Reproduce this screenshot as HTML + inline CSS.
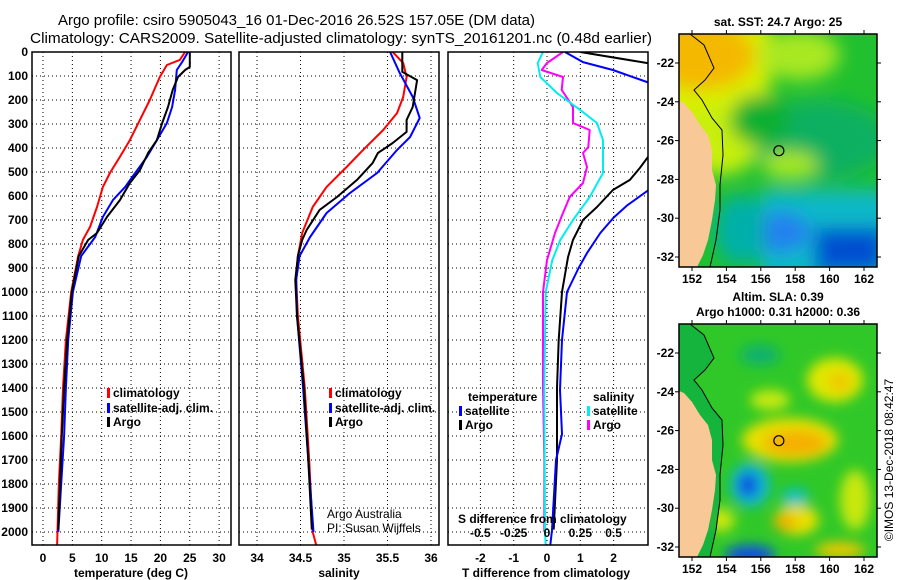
<!DOCTYPE html>
<html><head><meta charset="utf-8"><style>
html,body{margin:0;padding:0;background:#fff;}
svg{display:block;font-family:"Liberation Sans",sans-serif;}
.tk{font-size:12px;font-weight:bold;}
</style></head><body>
<svg id="chart" width="900" height="580" viewBox="0 0 900 580" xmlns="http://www.w3.org/2000/svg">
<defs>
<clipPath id="c1"><rect x="32" y="52" width="199" height="493"/></clipPath>
<clipPath id="c2"><rect x="239" y="52" width="200" height="493"/></clipPath>
<clipPath id="c3"><rect x="448" y="52" width="200" height="493"/></clipPath>
<clipPath id="m1"><rect x="679" y="34" width="198" height="233"/></clipPath>
<clipPath id="m2"><rect x="679" y="324" width="198" height="233"/></clipPath>
<filter id="bl" x="-20%" y="-20%" width="140%" height="140%"><feGaussianBlur stdDeviation="9"/></filter>
<filter id="bl2" x="-20%" y="-20%" width="140%" height="140%"><feGaussianBlur stdDeviation="6"/></filter>
</defs>
<text x="58" y="25" font-size="15" textLength="477" lengthAdjust="spacingAndGlyphs">Argo profile: csiro 5905043_16 01-Dec-2016 26.52S 157.05E (DM data)</text>
<text x="30" y="43" font-size="15" textLength="622" lengthAdjust="spacingAndGlyphs">Climatology: CARS2009. Satellite-adjusted climatology: synTS_20161201.nc (0.48d earlier)</text>
<g id="g1"></g>
<g id="g2"></g>
<g id="g3"></g>
<g id="maps"></g>
</svg>
<script>
// ---- depth axis ----
const depthTicks=[0,100,200,300,400,500,600,700,800,900,1000,1100,1200,1300,1400,1500,1600,1700,1800,1900,2000];
// ---- temperature panel data ----
const tempTicks=[0,5,10,15,20,25,30];
const tClimDepth=[0,33,54,104,200,283,367,437,504,562,646,729,783,850,1000,1200,1400,1600,1800,2054];
const tClim=[24.2,23.3,21.1,19.9,18.2,16.5,14.8,13.1,11.4,10.2,9.2,8.0,6.8,6.0,4.8,3.9,3.4,3.1,2.7,2.4];
const tSatDepth=[0,42,75,158,229,296,367,437,504,562,617,687,771,850,1000,1200,1400,1600,1800,2000];
const tSat=[24.7,23.7,22.8,22.5,22.0,21.1,19.4,17.7,15.7,14.0,11.9,10.2,8.9,6.5,5.1,4.3,3.9,3.6,3.1,2.6];
const tArgoDepth=[0,62,75,104,158,229,296,367,421,492,546,617,687,754,783,850,1000,1200,1400,1600,1800,1990];
const tArgo=[25.0,25.0,24.2,23.0,22.1,21.3,20.3,19.4,17.9,16.5,14.8,13.1,10.9,9.2,7.7,6.1,4.9,4.1,3.6,3.2,2.9,2.6];
// ---- salinity panel data ----
const salTicks=[34,34.5,35,35.5,36];
const salTickLabels=["34","34.5","35","35.5","36"];
const sClimDepth=[0,46,104,187,254,325,408,479,562,646,754,850,950,1100,1400,1700,2000,2054];
const sClim=[35.56,35.68,35.72,35.68,35.61,35.45,35.22,35.03,34.80,34.64,34.52,34.47,34.45,34.47,34.55,34.60,34.64,34.68];
const sSatDepth=[0,87,187,275,354,408,504,587,671,771,850,950,1100,1400,1700,2000];
const sSat=[35.53,35.64,35.79,35.87,35.76,35.61,35.38,35.07,34.80,34.61,34.49,34.45,34.46,34.53,34.59,34.65];
const sArgoDepth=[0,83,117,229,283,333,379,421,462,533,604,658,742,783,850,950,1100,1400,1700,1990];
const sArgo=[35.67,35.67,35.84,35.79,35.72,35.72,35.56,35.39,35.33,35.15,34.92,34.72,34.57,34.52,34.47,34.44,34.46,34.54,34.59,34.63];
// ---- difference panel data ----
const tDiffTicks=[-2,-1,0,1,2];
const sDiffTicks=[-0.5,-0.25,0,0.25,0.5];
const sDiffLabels=["-0.5","-0.25","0","0.25","0.5"];
const dTSatDepth=[0,42,75,125,150,450,575,640,690,754,838,900,1000,1200,1408,1592,1700,1992,2054];
const dTSat=[0.54,1.08,1.98,3.0,4.0,4.0,3.05,2.4,2.0,1.6,1.2,0.95,0.6,0.45,0.39,0.45,0.27,0.15,0.1];
const dTArgoDepth=[0,46,60,420,438,483,533,575,646,700,783,855,1000,1200,1400,1700,1990];
const dTArgo=[1.0,3.0,4.0,4.0,3.03,2.79,2.49,1.98,1.5,1.08,0.78,0.63,0.45,0.35,0.3,0.3,0.2];
const dSSatDepth=[0,46,104,171,242,296,367,504,604,700,783,867,1000,1400,2000,2054];
const dSSat=[-0.03,-0.07,-0.05,0.075,0.25,0.375,0.42,0.42,0.32,0.195,0.1,0.04,-0.01,-0.02,-0.015,-0.01];
const dSArgoDepth=[0,46,75,104,158,229,296,325,396,421,479,546,604,671,754,867,1000,1400,1700,2000];
const dSArgo=[0.12,0.0,-0.04,0.12,0.11,0.195,0.195,0.32,0.31,0.27,0.30,0.27,0.17,0.12,0.06,0.0,-0.03,-0.03,-0.02,-0.02];
// ---- map axes ----
const lonTicks=[152,154,156,158,160,162];
const latTicks=[-22,-24,-26,-28,-30,-32];

const NS="http://www.w3.org/2000/svg";
function mk(tag,attrs,parent,txt){const e=document.createElementNS(NS,tag);for(const k in attrs)e.setAttribute(k,attrs[k]);if(txt!==undefined)e.textContent=txt;parent.appendChild(e);return e;}
const yD=d=>52+d*0.24;
const xT=t=>43+t*5.87;
const xS=s=>257+(s-34)*87;
const xDT=v=>547+v*33.3;
const xDS=v=>547+v*133.3;

function frame(g,x0,x1,vx,name){
  depthTicks.forEach(d=>{const l=mk('line',{x1:x0,x2:x1,y1:yD(d),y2:yD(d),stroke:'#000','stroke-dasharray':'1,3'},g);
  
  });
  vx.forEach(x=>{const l=mk('line',{x1:x,x2:x,y1:52,y2:545,stroke:'#000','stroke-dasharray':'1,3'},g);
  
  });
}
function border(g,x0,x1,name){const r=mk('rect',{x:x0,y:52,width:x1-x0,height:493,fill:'none',stroke:'#000','stroke-width':1.5},g);

}
function line(g,ds,vs,fx,color,w,clip,name){
  const pts=ds.map((d,i)=>fx(vs[i]).toFixed(1)+','+yD(d).toFixed(1)).join(' ');
  const p=mk('polyline',{points:pts,fill:'none',stroke:color,'stroke-width':w,'clip-path':'url(#'+clip+')','stroke-linejoin':'round'},g);
  
  
}
function txt(g,x,y,s,attrs,name){const a=Object.assign({x:x,y:y},attrs||{});const t=mk('text',a,g,s);

return t;}

// Panel 1
const g1=document.getElementById('g1');
frame(g1,32,231,tempTicks.map(xT),'temp');
depthTicks.forEach(d=>{txt(g1,28,yD(d)+4,String(d),{'text-anchor':'end',class:'tk'},'depth-tick-label');});
tempTicks.forEach(t=>txt(g1,xT(t),562,String(t),{'text-anchor':'middle',class:'tk'},'temp-tick-label'));
txt(g1,131,577,'temperature (deg C)',{'text-anchor':'middle',class:'tk'},'temp-axis-title');
line(g1,tClimDepth,tClim,xT,'#f00',2,'c1','temp-climatology-line');
line(g1,tSatDepth,tSat,xT,'#00f',2,'c1','temp-satellite-line');
line(g1,tArgoDepth,tArgo,xT,'#000',2,'c1','temp-argo-line');
border(g1,32,231,'temp');
[['climatology','#f00',397],['satellite-adj. clim.','#00f',412],['Argo','#000',426]].forEach(([s,c,y])=>{
  const r=mk('rect',{x:107,y:y-9,width:3,height:10,fill:c},g1);
  
  
  txt(g1,113,y,s,{class:'tk'},'temp-legend-entry');
});

// Panel 2
const g2=document.getElementById('g2');
frame(g2,239,439,salTicks.map(xS),'sal');
salTicks.forEach((s,i)=>txt(g2,xS(s),562,salTickLabels[i],{'text-anchor':'middle',class:'tk'},'sal-tick-label'));
txt(g2,339,577,'salinity',{'text-anchor':'middle',class:'tk'},'sal-axis-title');
line(g2,sClimDepth,sClim,xS,'#f00',2,'c2','sal-climatology-line');
line(g2,sSatDepth,sSat,xS,'#00f',2,'c2','sal-satellite-line');
line(g2,sArgoDepth,sArgo,xS,'#000',2,'c2','sal-argo-line');
border(g2,239,439,'sal');
[['climatology','#f00',397],['satellite-adj. clim.','#00f',412],['Argo','#000',426]].forEach(([s,c,y])=>{
  const r=mk('rect',{x:329,y:y-9,width:3,height:10,fill:c},g2);
  
  
  txt(g2,335,y,s,{class:'tk'},'sal-legend-entry');
});
txt(g2,327,518,'Argo Australia',{'font-size':12},'credit-line-1');
txt(g2,327,532,'PI: Susan Wijffels',{'font-size':12},'credit-line-2');

// Panel 3
const g3=document.getElementById('g3');
frame(g3,448,648,tDiffTicks.map(xDT),'diff');
tDiffTicks.forEach(t=>txt(g3,xDT(t),562,String(t),{'text-anchor':'middle',class:'tk'},'tdiff-tick-label'));
txt(g3,546,577,'T difference from climatology',{'text-anchor':'middle',class:'tk'},'tdiff-axis-title');
line(g3,dSArgoDepth,dSArgo,xDS,'#f0f',2,'c3','sdiff-argo-line');
line(g3,dSSatDepth,dSSat,xDS,'#0ee',2,'c3','sdiff-satellite-line');
line(g3,dTArgoDepth,dTArgo,xDT,'#000',2,'c3','tdiff-argo-line');
line(g3,dTSatDepth,dTSat,xDT,'#00f',2,'c3','tdiff-satellite-line');
border(g3,448,648,'diff');
txt(g3,458,523,'S difference from climatology',{class:'tk'},'sdiff-axis-title');
sDiffTicks.forEach((s,i)=>txt(g3,xDS(s),537,sDiffLabels[i],{'text-anchor':'middle',class:'tk'},'sdiff-tick-label'));
txt(g3,468,401,'temperature',{class:'tk'},'legend-temperature-heading');
txt(g3,593,401,'salinity',{class:'tk'},'legend-salinity-heading');
[['satellite','#00f',415,459,'#0ee',587],['Argo','#000',429,459,'#f0f',587]].forEach(([s,c,y,x1,c2,x2])=>{
  let r=mk('rect',{x:x1,y:y-9,width:3,height:10,fill:c},g3);
  
  
  txt(g3,x1+6,y,s,{class:'tk'},'legend-entry-temp');
  r=mk('rect',{x:x2,y:y-9,width:3,height:10,fill:c2},g3);
  
  
  txt(g3,x2+6,y,s,{class:'tk'},'legend-entry-sal');
});

// Maps
const mg=document.getElementById('maps');
const mx=lon=>692+(lon-152)*17.2;
const coast=[[690,34],[704,45],[714,68],[705,80],[694,90],[702,100],[712,118],[722,130],[723,155],[720,185],[720,210],[716,240],[710,267]];
function shelf(g,oy){
  const pts=coast.concat([[679,267],[679,34]]);
  const p=mk('polygon',{points:pts.map(q=>q[0]+','+(q[1]+oy)).join(' '),fill:'#10b040',opacity:0.85},g);
  
  
}
function land(g,oy){
  const pts=[[679,101],[684,103],[692,112],[700,125],[708,135],[712,150],[712,170],[716,185],[715,200],[712,220],[708,240],[703,255],[697,267],[679,267]];
  const p=mk('polygon',{points:pts.map(q=>q[0]+','+(q[1]+oy)).join(' '),fill:'#f9c897'},g);
  
  
  const l=mk('polyline',{points:coast.map(q=>q[0]+','+(q[1]+oy)).join(' '),fill:'none',stroke:'#000','stroke-width':1},g);
  
  
}
function mapAxes(g,oy){
  const my=lat=>63+(-22-lat)*19.4+oy;
  const r=mk('rect',{x:679,y:34+oy,width:198,height:233,fill:'none',stroke:'#000','stroke-width':1.5},g);
  
  
  lonTicks.forEach(l=>{mk('line',{x1:mx(l),x2:mx(l),y1:34+oy,y2:30+oy,stroke:'#000'},g);mk('line',{x1:mx(l),x2:mx(l),y1:267+oy,y2:271+oy,stroke:'#000'},g);
    txt(g,mx(l),283+oy,String(l),{'text-anchor':'middle',class:'tk'},'map-lon-label');});
  latTicks.forEach(l=>{mk('line',{x1:679,x2:675,y1:my(l),y2:my(l),stroke:'#000'},g);mk('line',{x1:877,x2:881,y1:my(l),y2:my(l),stroke:'#000'},g);
    txt(g,674,my(l)+4,String(l),{'text-anchor':'end',class:'tk'},'map-lat-label');});
  const c=mk('circle',{cx:mx(157.05),cy:my(-26.52),r:5,fill:'none',stroke:'#000','stroke-width':1.2},g);
  
  
}
// SST map
const s1=mk('g',{'clip-path':'url(#m1)'},mg);


mk('rect',{x:679,y:34,width:198,height:233,fill:'#20c030'},s1);
const b1=mk('g',{filter:'url(#bl)'},s1);
[['ellipse',{cx:820,cy:140,rx:70,ry:40,fill:'#10b060'}],['rect',{x:760,y:190,width:130,height:90,fill:'#10b8c8'}],
 ['rect',{x:660,y:20,width:110,height:120,fill:'#d8f000'}],['ellipse',{cx:700,cy:55,rx:55,ry:35,fill:'#f5b800'}],
 ['ellipse',{cx:720,cy:140,rx:40,ry:35,fill:'#c8ef10'}],['ellipse',{cx:790,cy:165,rx:28,ry:14,fill:'#a8e820'}],
 ['ellipse',{cx:800,cy:55,rx:40,ry:25,fill:'#a8e820'}],['ellipse',{cx:780,cy:232,rx:30,ry:20,fill:'#2080f0'}],
 ['rect',{x:815,y:228,width:70,height:45,fill:'#0050d0'}],['ellipse',{cx:740,cy:230,rx:25,ry:35,fill:'#00b0a8'}],
 ['ellipse',{cx:760,cy:120,rx:30,ry:25,fill:'#10b030'}]].forEach(([t,a])=>mk(t,a,b1));
land(s1,0);
mapAxes(mg,0);
txt(mg,778,26,'sat. SST: 24.7 Argo: 25',{'text-anchor':'middle',class:'tk'},'sst-map-title');
// SLA map
const s2=mk('g',{'clip-path':'url(#m2)'},mg);


mk('rect',{x:679,y:324,width:198,height:233,fill:'#30c828'},s2);
const b2=mk('g',{filter:'url(#bl2)'},s2);
[['ellipse',{cx:835,cy:380,rx:28,ry:22,fill:'#e0e800'}],['ellipse',{cx:840,cy:382,rx:12,ry:10,fill:'#f0c800'}],
 ['ellipse',{cx:790,cy:440,rx:48,ry:22,fill:'#e8e000'}],['ellipse',{cx:795,cy:443,rx:32,ry:13,fill:'#f5b000'}],
 ['ellipse',{cx:770,cy:400,rx:20,ry:10,fill:'#c8ea10'}],['ellipse',{cx:750,cy:485,rx:20,ry:22,fill:'#10b8d0'}],
 ['ellipse',{cx:748,cy:485,rx:10,ry:12,fill:'#1050e0'}],['ellipse',{cx:797,cy:520,rx:22,ry:15,fill:'#e8e000'}],
 ['ellipse',{cx:785,cy:522,rx:12,ry:8,fill:'#f0b000'}],['ellipse',{cx:750,cy:555,rx:25,ry:10,fill:'#1050e0'}],
 ['ellipse',{cx:795,cy:497,rx:14,ry:9,fill:'#10c0c0'}],['ellipse',{cx:720,cy:520,rx:15,ry:12,fill:'#c8e810'}],
 ['ellipse',{cx:760,cy:355,rx:20,ry:10,fill:'#10b070'}],['ellipse',{cx:855,cy:500,rx:15,ry:30,fill:'#c8e810'}],
 ['ellipse',{cx:840,cy:550,rx:25,ry:8,fill:'#f0c800'}]].forEach(([t,a])=>mk(t,a,b2));
shelf(s2,290);
land(s2,290);
mapAxes(mg,290);
txt(mg,778,301,'Altim. SLA: 0.39',{'text-anchor':'middle',class:'tk'},'sla-map-title');
txt(mg,778,316,'Argo h1000: 0.31 h2000: 0.36',{'text-anchor':'middle',class:'tk'},'sla-map-subtitle');
txt(mg,0,0,'©IMOS 13-Dec-2018 08:42:47',{'text-anchor':'middle','font-size':12,transform:'translate(893,460) rotate(-90)'},'imos-timestamp');
</script>
</body></html>
